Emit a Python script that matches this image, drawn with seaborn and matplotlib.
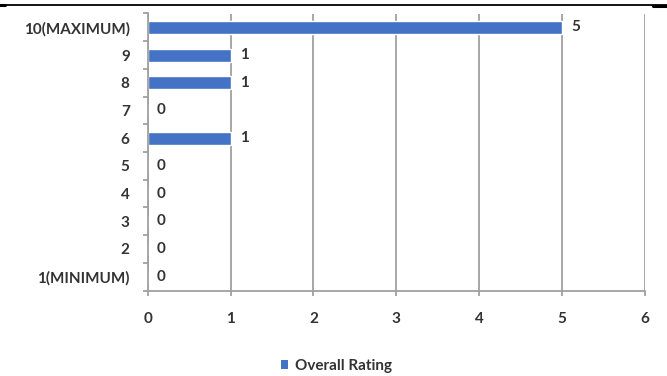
import pandas as pd
import matplotlib
matplotlib.use("Agg")
import matplotlib.pyplot as plt
from matplotlib.lines import Line2D
from matplotlib.patches import Patch
import seaborn as sns

# Rating categories (top to bottom) and counts
ratings = ["10(MAXIMUM)", "9", "8", "7", "6", "5", "4", "3", "2", "1(MINIMUM)"]
counts = [5, 1, 1, 0, 1, 0, 0, 0, 0, 0]
x_ticks = [0, 1, 2, 3, 4, 5, 6]
series_name = "Overall Rating"

df = pd.DataFrame({"rating": ratings, "count": counts})

sns.set_style("white")
plt.rcParams["font.family"] = ["Lato", "DejaVu Sans"]
plt.rcParams["font.weight"] = "bold"

bar_color = "#4472C4"
grid_color = "#A0A0A0"
text_color = "#333333"
fs = 11

fig = plt.figure(figsize=(6.67, 3.76), dpi=100)
ax = fig.add_axes([147.7 / 667, 1 - 290.5 / 376, (645 - 147.7) / 667, (290.5 - 13.5) / 376])

sns.barplot(data=df, x="count", y="rating", order=ratings, color=bar_color,
            width=0.47, saturation=1, orient="h", ax=ax)

ax.set_xlim(0, 6)
ax.set_ylim(len(ratings) - 0.5, -0.5)
ax.set_xticks(x_ticks)
ax.set_xticklabels([str(t) for t in x_ticks])
ax.set_xlabel("")
ax.set_ylabel("")

# vertical gridlines
ax.grid(axis="x", color=grid_color, linewidth=1.3)
ax.set_axisbelow(True)

for side in ["top", "right"]:
    ax.spines[side].set_visible(False)
for side in ["left", "bottom"]:
    ax.spines[side].set_color(grid_color)
    ax.spines[side].set_linewidth(1.3)

# tick marks between categories on the y axis
ax.set_yticks([i + 0.5 for i in range(-1, len(ratings))], minor=True)
ax.tick_params(axis="y", which="minor", length=3.8, width=1.3, color=grid_color, left=True)
ax.tick_params(axis="y", which="major", length=0, pad=13, labelsize=fs, labelcolor=text_color)
ax.tick_params(axis="x", which="major", length=3.8, width=1.3, color=grid_color,
               bottom=True, pad=12, labelsize=fs, labelcolor=text_color)

# data labels
for i, v in enumerate(counts):
    ax.annotate(str(v), (v, i), xytext=(6.5, 0), textcoords="offset points",
                va="center", ha="left", fontsize=fs, color=text_color)

# legend at bottom
handles = [Patch(facecolor=bar_color, edgecolor="none", label=series_name)]
fig.legend(handles=handles, loc="center", bbox_to_anchor=(0.505, 1 - 366 / 376),
           frameon=False, fontsize=fs, handlelength=0.45, handleheight=0.45,
           handletextpad=0.45, labelcolor=text_color)

# top border line
fig.add_artist(Line2D([0, 1], [1 - 4.7 / 376, 1 - 4.7 / 376], transform=fig.transFigure,
                      color="black", linewidth=1.3))
fig.add_artist(Line2D([0, 0.008], [1 - 5 / 376, 1 - 5 / 376], transform=fig.transFigure,
                      color="black", linewidth=2.2))
fig.add_artist(Line2D([0.979, 1], [1 - 5.5 / 376, 1 - 5.5 / 376], transform=fig.transFigure,
                      color="black", linewidth=2.2))

fig.savefig("out.png", dpi=100)
